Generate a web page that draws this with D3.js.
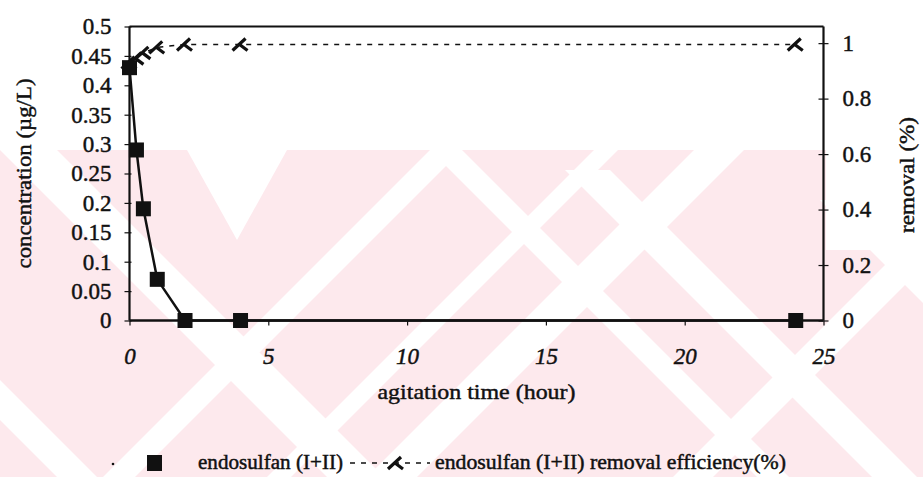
<!DOCTYPE html>
<html>
<head>
<meta charset="utf-8">
<script src="https://cdn.jsdelivr.net/npm/d3@7/dist/d3.min.js"></script>
<style>
  html, body { margin: 0; padding: 0; background: #fff; }
  svg { display: block; }
</style>
</head>
<body>
<svg id="chart" width="923" height="477"></svg>
<script>
// agitation time (hour)
const concTimes = [0, 0.25, 0.5, 1, 2, 4, 24];
// endosulfan (I+II) concentration (µg/L)
const concValues = [0.43, 0.29, 0.19, 0.07, 0, 0, 0];
// removal efficiency, right axis
const removalTimes = [0, 0.25, 0.5, 1, 2, 4, 24];
const removalValues = [0.93, 0.945, 0.965, 0.985, 0.995, 0.995, 0.995];

const xTicks = [0, 5, 10, 15, 20, 25];
const yLeftTicks = [0, 0.05, 0.1, 0.15, 0.2, 0.25, 0.3, 0.35, 0.4, 0.45, 0.5];
const yRightTicks = [0, 0.2, 0.4, 0.6, 0.8, 1];

const concLabel = "endosulfan (I+II)";
const removalLabel = "endosulfan (I+II) removal efficiency(%)";

const FONT = "Liberation Serif";
const INK = "#111";

const svg = d3.select("#chart");
const W = 923, H = 477;
const plot = { left: 129.5, right: 823.5, top: 26.5, bottom: 320.5 };

// pale background: pink field with white diagonal gaps
const wmTop = 150;
const bg = svg.append("g");
bg.append("rect").attr("width", W).attr("height", H).attr("fill", "#fff");
bg.append("rect").attr("x", 0).attr("y", wmTop).attr("width", W).attr("height", H - wmTop).attr("fill", "#fde9ed");
// gaps running down-left: x + y between c0 and c1
const gapsSlash = [[580, 612], [744, 768], [844, 894], [1150, 1190]];
// gaps running down-right: x - y between d0 and d1, starting at yStart
const gapsBack = [[-150, -93, 150], [280, 312, 150], [395, 440, 170], [-420, -380, 150], [620, 660, 200]];
const gapFill = "#fff";
bg.selectAll("path.s").data(gapsSlash).join("path").attr("class", "s")
  .attr("fill", gapFill)
  .attr("d", ([c0, c1]) => `M${c0 - wmTop},${wmTop}L${c1 - wmTop},${wmTop}L${c1 - H},${H}L${c0 - H},${H}Z`);
bg.selectAll("path.b").data(gapsBack).join("path").attr("class", "b")
  .attr("fill", gapFill)
  .attr("d", ([d0, d1, ys]) => `M${d0 + ys},${ys}L${d1 + ys},${ys}L${d1 + H},${H}L${d0 + H},${H}Z`);
// notch at top
bg.append("path").attr("fill", gapFill).attr("d", "M187,150L287,150L237,240Z");
// blank strip right of the plot
bg.append("path").attr("fill", gapFill).attr("d", "M826,150L923,150L923,250L826,250Z");

const x = d3.scaleLinear().domain([0, 25]).range([plot.left, plot.right]);
const yL = d3.scaleLinear().domain([0, 0.5]).range([plot.bottom, plot.top]);
const yR = d3.scaleLinear().domain([0, 1.06]).range([plot.bottom, plot.top]);

// top border
svg.append("line")
  .attr("x1", plot.left).attr("x2", plot.right)
  .attr("y1", plot.top).attr("y2", plot.top)
  .attr("stroke", INK).attr("stroke-width", 2);

function styleTicks(g, italic) {
  g.selectAll(".tick line").attr("stroke", INK).attr("stroke-width", 1.2);
  g.selectAll(".tick text").attr("font-size", 23).attr("fill", INK)
    .style("font-style", italic ? "italic" : null);
}

// left axis
const gL = svg.append("g").attr("transform", `translate(${plot.left},0)`)
  .call(d3.axisLeft(yL).tickValues(yLeftTicks).tickFormat(d3.format("~g")).tickSize(5).tickPadding(13));
styleTicks(gL, false);
gL.selectAll(".tick line").attr("x1", 2);
gL.select(".domain").attr("stroke", INK).attr("stroke-width", 2.2).attr("d", `M0,${plot.top}V${plot.bottom}`);

// right axis
const gR = svg.append("g").attr("transform", `translate(${plot.right},0)`)
  .call(d3.axisRight(yR).tickValues(yRightTicks).tickFormat(d3.format("~g")).tickSize(5).tickPadding(14));
styleTicks(gR, false);
gR.selectAll(".tick line").attr("x1", -5);
gR.select(".domain").attr("stroke", INK).attr("stroke-width", 2.2).attr("d", `M0,${plot.top}V${plot.bottom}`);

// bottom axis
const gB = svg.append("g").attr("transform", `translate(0,${plot.bottom})`)
  .call(d3.axisBottom(x).tickValues(xTicks).tickSize(5).tickPadding(22));
styleTicks(gB, true);
gB.select(".domain").attr("stroke", INK).attr("stroke-width", 2.5).attr("d", `M${plot.left},0H${plot.right}`);

// axis titles
svg.append("text")
  .attr("transform", `translate(31,${(plot.top + plot.bottom) / 2}) rotate(-90)`)
  .attr("text-anchor", "middle").attr("font-size", 22).attr("fill", INK)
  .attr("textLength", 190).attr("lengthAdjust", "spacingAndGlyphs")
  .text("concentration (µg/L)");
svg.append("text")
  .attr("transform", `translate(914,175) rotate(-90)`)
  .attr("text-anchor", "middle").attr("font-size", 22).attr("fill", INK)
  .attr("textLength", 116).attr("lengthAdjust", "spacingAndGlyphs")
  .text("removal (%)");
svg.append("text")
  .attr("x", (plot.left + plot.right) / 2).attr("y", 399)
  .attr("text-anchor", "middle").attr("font-size", 22).attr("fill", INK)
  .attr("textLength", 198).attr("lengthAdjust", "spacingAndGlyphs")
  .text("agitation time (hour)");

const removal = removalTimes.map((t, i) => ({ t, v: removalValues[i] }));
const conc = concTimes.map((t, i) => ({ t, v: concValues[i] }));

// removal efficiency series (dashed, right axis)
svg.append("path")
  .datum(removal)
  .attr("fill", "none").attr("stroke", INK).attr("stroke-width", 1.5)
  .attr("stroke-dasharray", "5,6")
  .attr("d", d3.line().x(d => x(d.t)).y(d => yR(d.v)));

const markPath = "M-8,6L5,-6M-1,0L7,6";
svg.append("g").selectAll("path").data(removal).join("path")
  .attr("transform", d => `translate(${x(d.t)},${yR(d.v)})`)
  .attr("d", markPath)
  .attr("fill", "none").attr("stroke", INK).attr("stroke-width", 3.2);

// concentration series (solid, left axis)
svg.append("path")
  .datum(conc)
  .attr("fill", "none").attr("stroke", INK).attr("stroke-width", 2.5)
  .attr("d", d3.line().x(d => x(d.t)).y(d => yL(d.v)));

svg.append("g").selectAll("rect").data(conc).join("rect")
  .attr("x", d => x(d.t) - 7.5).attr("y", d => yL(d.v) - 7.5)
  .attr("width", 15).attr("height", 15)
  .attr("fill", INK);

// legend
const lg = svg.append("g");
lg.append("circle").attr("cx", 113).attr("cy", 464).attr("r", 1.3).attr("fill", INK);
lg.append("rect").attr("x", 147).attr("y", 455).attr("width", 15).attr("height", 16).attr("fill", INK);
lg.append("text").attr("x", 198).attr("y", 469).attr("font-size", 20).attr("fill", INK)
  .attr("textLength", 145).attr("lengthAdjust", "spacingAndGlyphs").text(concLabel);
lg.append("line").attr("x1", 350).attr("x2", 430).attr("y1", 463).attr("y2", 463)
  .attr("stroke", INK).attr("stroke-width", 1.5).attr("stroke-dasharray", "5,6");
lg.append("path").attr("transform", "translate(396,463)").attr("d", markPath)
  .attr("fill", "none").attr("stroke", INK).attr("stroke-width", 3.2);
lg.append("text").attr("x", 435).attr("y", 469).attr("font-size", 20).attr("fill", INK)
  .attr("textLength", 351).attr("lengthAdjust", "spacingAndGlyphs").text(removalLabel);

// serif face for every label, with a slightly heavier ink
svg.selectAll("text")
  .style("font-family", FONT)
  .attr("stroke", INK).attr("stroke-width", 0.45);
</script>
</body>
</html>
